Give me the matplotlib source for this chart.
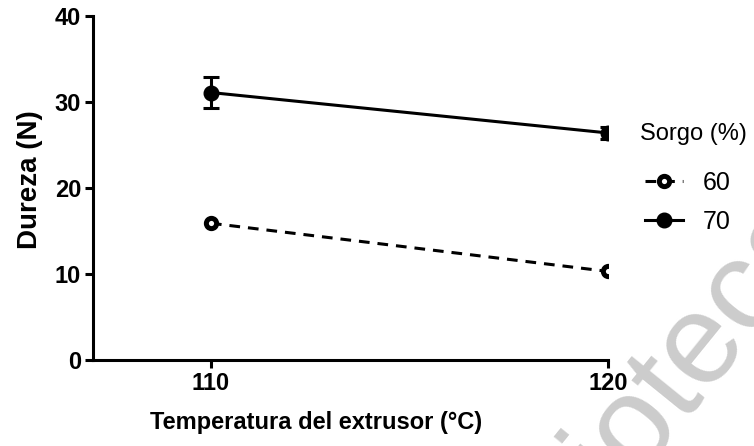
import matplotlib
matplotlib.use("Agg")
import matplotlib.pyplot as plt

plt.rcParams["font.family"] = ["Liberation Sans", "DejaVu Sans"]

# -------------------------------------------------
# Data
# -------------------------------------------------
temperatura = [110, 120]
sorgo_60 = [15.9, 10.3]
sorgo_70 = [31.1, 26.4]
sorgo_70_err = [1.85, 0.7]
y_ticks = [0, 10, 20, 30, 40]

W, H = 754, 446
fig = plt.figure(figsize=(W / 100, H / 100), dpi=100)
ax = fig.add_axes([93 / W, 1 - 360 / H, (608 - 93) / W, (360 - 16) / H])
ax.patch.set_alpha(0)

# watermark (behind everything)
fig.text(483 / W, 1 - 658 / H, "Biblioteca", fontsize=92, color="#cccccc",
         rotation=51, rotation_mode="anchor", ha="left", va="baseline", zorder=-5)

lw = 2.2
l60, = ax.plot(temperatura, sorgo_60, color="black", lw=lw, ls=(0, (3.5, 2.6)),
               marker="o", ms=7.4, mfc="white", mec="black", mew=3.6, label="60")
eb70 = ax.errorbar(temperatura, sorgo_70, yerr=sorgo_70_err, color="black", lw=lw,
                   marker="o", ms=10.5, mfc="black", mec="black",
                   capsize=5.8, capthick=lw, elinewidth=lw, label="70")

ax.set_xlim(107.03, 120)
ax.set_ylim(0, 40)
ax.set_xticks(temperatura)
ax.set_yticks(y_ticks)

for s in ["top", "right"]:
    ax.spines[s].set_visible(False)
for s in ["left", "bottom"]:
    ax.spines[s].set_linewidth(lw)
ax.tick_params(width=lw, length=5.5, labelsize=17, pad=3)
for lab in ax.get_xticklabels() + ax.get_yticklabels():
    lab.set_fontweight("bold")

ax.set_xlabel("Temperatura del extrusor (°C)", fontsize=17, fontweight="bold")
ax.set_ylabel("Dureza (N)", fontsize=20, fontweight="bold")
ax.xaxis.set_label_coords((316 - 93) / 515, (360 - 423) / 344)
ax.xaxis.label.set_va("center")
ax.yaxis.set_label_coords((30 - 93) / 515, (360 - 180) / 344)
ax.yaxis.label.set_va("center")

# legend: title as separate text, handles without error bars
fig.text(640 / W, 1 - 134 / H, "Sorgo (%)", fontsize=17, ha="left", va="center")
leg = fig.legend([l60, eb70[0]], ["60", "70"], fontsize=18, frameon=False,
                 loc="upper left", bbox_to_anchor=(645 / W, 1 - 171 / H),
                 handlelength=1.5, handletextpad=0.8, labelspacing=0.6,
                 borderpad=0, borderaxespad=0, markerscale=1.0)

fig.savefig("out.png", dpi=100)
